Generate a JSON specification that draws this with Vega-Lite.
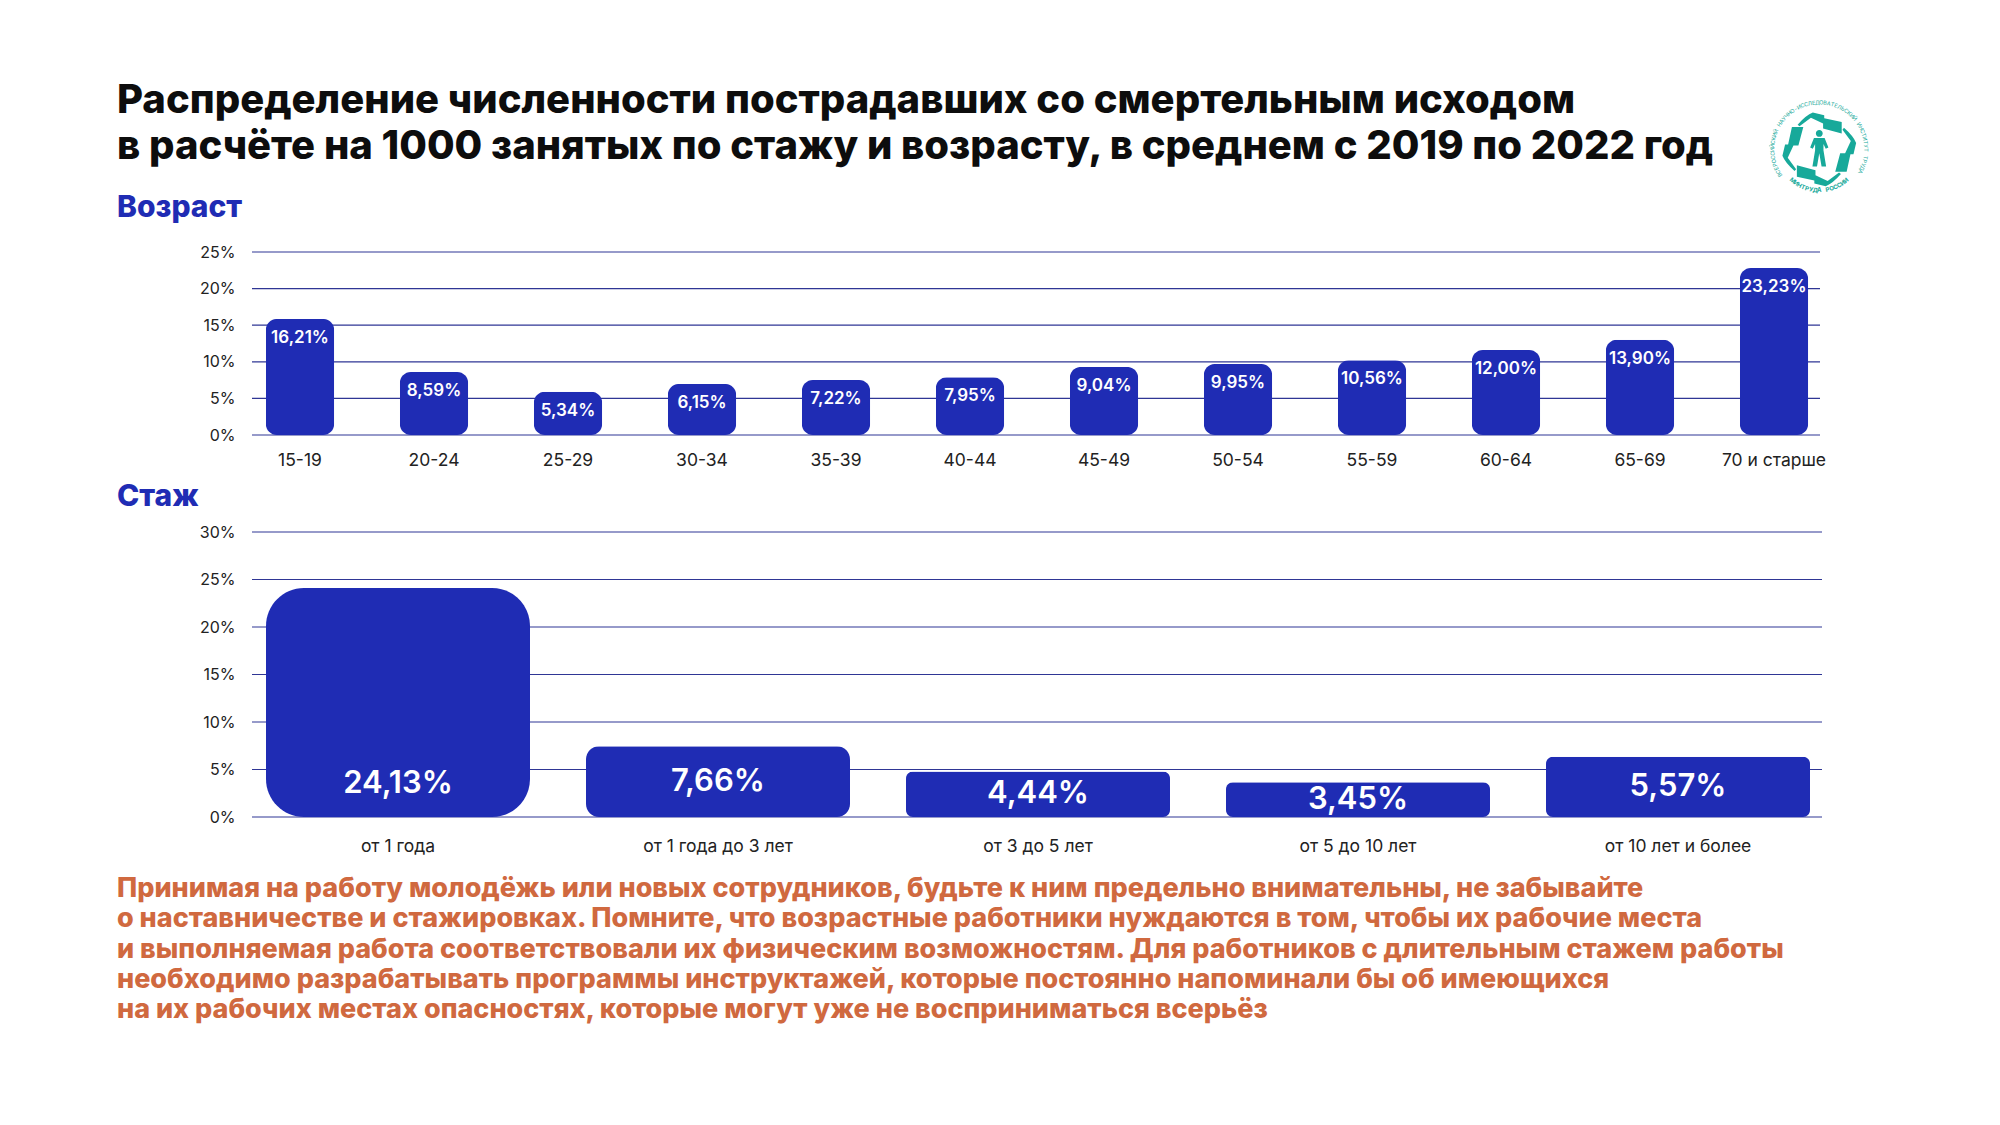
{
  "$schema": "https://vega.github.io/schema/vega-lite/v6.json",
  "background": "white",
  "padding": {"left": 117, "top": 75, "right": 0, "bottom": 0},
  "bounds": "flush",
  "spacing": 97,
  "config": {
    "view": {"stroke": null},
    "font": "Inter",
    "axisY": {
      "values": [0, 5, 10, 15, 20, 25, 30],
      "labelExpr": "datum.value + '%'",
      "labelFontSize": 16,
      "labelColor": "#222222",
      "labelPadding": 17,
      "title": null,
      "domain": false,
      "ticks": false,
      "grid": false
    },
    "axisX": {
      "labelFontSize": 17.5,
      "labelColor": "#222222",
      "labelAngle": 0,
      "title": null,
      "domain": false,
      "ticks": false,
      "grid": false
    },
    "rule": {"color": "#2f3695", "strokeWidth": 1.2},
    "title": {"anchor": "start", "frame": "group", "dx": -135, "font": "Inter"}
  },
  "datasets": {
    "age": [
      {"age": "15-19", "height": 15.85, "label": "16,21%"},
      {"age": "20-24", "height": 8.6, "label": "8,59%"},
      {"age": "25-29", "height": 5.9, "label": "5,34%"},
      {"age": "30-34", "height": 6.97, "label": "6,15%"},
      {"age": "35-39", "height": 7.5, "label": "7,22%"},
      {"age": "40-44", "height": 7.9, "label": "7,95%"},
      {"age": "45-49", "height": 9.3, "label": "9,04%"},
      {"age": "50-54", "height": 9.7, "label": "9,95%"},
      {"age": "55-59", "height": 10.2, "label": "10,56%"},
      {"age": "60-64", "height": 11.6, "label": "12,00%"},
      {"age": "65-69", "height": 13, "label": "13,90%"},
      {"age": "70 и старше", "height": 22.8, "label": "23,23%"}
    ],
    "tenure": [
      {"tenure": "от 1 года", "height": 24.1, "label": "24,13%"},
      {"tenure": "от 1 года до 3 лет", "height": 7.44, "label": "7,66%"},
      {"tenure": "от 3 до 5 лет", "height": 4.8, "label": "4,44%"},
      {"tenure": "от 5 до 10 лет", "height": 3.67, "label": "3,45%"},
      {"tenure": "от 10 лет и более", "height": 6.35, "label": "5,57%"}
    ],
    "ticksAge": [{"tick": 0}, {"tick": 5}, {"tick": 10}, {"tick": 15}, {"tick": 20}, {"tick": 25}],
    "ticksTenure": [{"tick": 0}, {"tick": 5}, {"tick": 10}, {"tick": 15}, {"tick": 20}, {"tick": 25}, {"tick": 30}],
    "ring": [
      {"i": 0, "c": "В"}, {"i": 1, "c": "С"}, {"i": 2, "c": "Е"}, {"i": 3, "c": "Р"}, {"i": 4, "c": "О"},
      {"i": 5, "c": "С"}, {"i": 6, "c": "С"}, {"i": 7, "c": "И"}, {"i": 8, "c": "Й"}, {"i": 9, "c": "С"},
      {"i": 10, "c": "К"}, {"i": 11, "c": "И"}, {"i": 12, "c": "Й"}, {"i": 14, "c": "Н"}, {"i": 15, "c": "А"},
      {"i": 16, "c": "У"}, {"i": 17, "c": "Ч"}, {"i": 18, "c": "Н"}, {"i": 19, "c": "О"}, {"i": 20, "c": "-"},
      {"i": 21, "c": "И"}, {"i": 22, "c": "С"}, {"i": 23, "c": "С"}, {"i": 24, "c": "Л"}, {"i": 25, "c": "Е"},
      {"i": 26, "c": "Д"}, {"i": 27, "c": "О"}, {"i": 28, "c": "В"}, {"i": 29, "c": "А"}, {"i": 30, "c": "Т"},
      {"i": 31, "c": "Е"}, {"i": 32, "c": "Л"}, {"i": 33, "c": "Ь"}, {"i": 34, "c": "С"}, {"i": 35, "c": "К"},
      {"i": 36, "c": "И"}, {"i": 37, "c": "Й"}, {"i": 39, "c": "И"}, {"i": 40, "c": "Н"}, {"i": 41, "c": "С"},
      {"i": 42, "c": "Т"}, {"i": 43, "c": "И"}, {"i": 44, "c": "Т"}, {"i": 45, "c": "У"}, {"i": 46, "c": "Т"},
      {"i": 48, "c": "Т"}, {"i": 49, "c": "Р"}, {"i": 50, "c": "У"}, {"i": 51, "c": "Д"}, {"i": 52, "c": "А"}
    ],
    "ministry": [
      {"i": 0, "c": "М"}, {"i": 1, "c": "И"}, {"i": 2, "c": "Н"}, {"i": 3, "c": "Т"}, {"i": 4, "c": "Р"},
      {"i": 5, "c": "У"}, {"i": 6, "c": "Д"}, {"i": 7, "c": "А"}, {"i": 9, "c": "Р"}, {"i": 10, "c": "О"},
      {"i": 11, "c": "С"}, {"i": 12, "c": "С"}, {"i": 13, "c": "И"}, {"i": 14, "c": "И"}
    ]
  },
  "vconcat": [
    {
      "width": 1572,
      "height": 80,
      "title": {
        "text": [
          "Распределение численности пострадавших со смертельным исходом",
          "в расчёте на 1000 занятых по стажу и возрасту, в среднем с 2019 по 2022 год"
        ],
        "fontSize": 40,
        "fontWeight": 800,
        "color": "#0d0d0d",
        "lineHeight": 46,
        "baseline": "top",
        "offset": 0,
        "dy": 92
      },
      "encoding": {
        "x": {"datum": 0.997, "type": "quantitative", "scale": {"domain": [0, 1]}, "axis": null},
        "y": {"datum": 0.07, "type": "quantitative", "scale": {"domain": [0, 1]}, "axis": null}
      },
      "resolve": {"scale": {"theta": "independent", "angle": "independent"}},
      "layer": [
        {
          "data": {"values": [{"logo": "hands and figure"}]},
          "mark": {
            "type": "point",
            "filled": true,
            "opacity": 1,
            "size": 5776,
            "color": "#17a99a",
            "shape": "M-0.57 -0.65 Q-0.35 -0.9 -0.17 -0.97 L0.13 -0.9 L0.13 -0.82 L0.59 -0.72 L0.59 -0.42 L0.1 -0.55 L0.1 -0.68 L-0.22 -0.83 L-0.52 -0.61 Z M0.65 -0.57 Q0.9 -0.35 0.97 -0.17 L0.9 0.13 L0.82 0.13 L0.72 0.59 L0.42 0.59 L0.55 0.1 L0.68 0.1 L0.83 -0.22 L0.61 -0.52 Z M0.57 0.65 Q0.35 0.9 0.17 0.97 L-0.13 0.9 L-0.13 0.82 L-0.59 0.72 L-0.59 0.42 L-0.1 0.55 L-0.1 0.68 L0.22 0.83 L0.52 0.61 Z M-0.65 0.57 Q-0.9 0.35 -0.97 0.17 L-0.9 -0.13 L-0.82 -0.13 L-0.72 -0.59 L-0.42 -0.59 L-0.55 -0.1 L-0.68 -0.1 L-0.83 0.22 L-0.61 0.52 Z M-0.09 -0.42 A0.09 0.09 0 1 1 0.09 -0.42 A0.09 0.09 0 1 1 -0.09 -0.42 Z M-0.14 -0.3 L0.14 -0.3 L0.24 -0.05 L0.17 -0.02 L0.11 -0.14 L0.11 0.02 L0.18 0.45 L0.06 0.45 L0 0.1 L-0.06 0.45 L-0.18 0.45 L-0.11 0.02 L-0.11 -0.14 L-0.17 -0.02 L-0.24 -0.05 Z"
          },
          "encoding": {}
        },
        {
          "data": {"name": "ring"},
          "mark": {"type": "text", "fontSize": 5.5, "color": "#17a99a", "baseline": "middle", "radius": 47},
          "encoding": {
            "text": {"field": "c"},
            "theta": {"field": "i", "type": "quantitative", "stack": null, "scale": {"domain": [0, 52], "range": [-2.15, 2.07]}},
            "angle": {"field": "i", "type": "quantitative", "scale": {"domain": [0, 52], "range": [-123, 119]}}
          }
        },
        {
          "data": {"name": "ministry"},
          "mark": {"type": "text", "fontSize": 6, "fontWeight": 700, "color": "#17a99a", "baseline": "middle", "radius": 41},
          "encoding": {
            "text": {"field": "c"},
            "theta": {"field": "i", "type": "quantitative", "stack": null, "scale": {"domain": [0, 14], "range": [3.85, 2.43]}},
            "angle": {"field": "i", "type": "quantitative", "scale": {"domain": [0, 14], "range": [40, -40]}}
          }
        }
      ]
    },
    {
      "width": 1568,
      "height": 183,
      "title": {"text": "Возраст", "fontSize": 30, "fontWeight": 800, "color": "#1f2cb4", "offset": 21},
      "layer": [
        {
          "data": {"name": "ticksAge"},
          "mark": "rule",
          "encoding": {"y": {"field": "tick", "type": "quantitative", "scale": {"domain": [0, 25]}}}
        },
        {
          "data": {"name": "age"},
          "encoding": {
            "x": {
              "field": "age",
              "type": "nominal",
              "sort": null,
              "scale": {"range": [-19, 1589], "paddingInner": 0.49, "paddingOuter": 0.245},
              "axis": {"labelPadding": 16}
            },
            "y": {"field": "height", "type": "quantitative", "scale": {"domain": [0, 25]}}
          },
          "layer": [
            {"mark": {"type": "bar", "color": "#1f2cb4", "cornerRadius": 11}},
            {
              "mark": {"type": "text", "color": "white", "fontSize": 17, "fontWeight": 600, "baseline": "middle", "dy": 19},
              "encoding": {"text": {"field": "label"}}
            }
          ]
        }
      ]
    },
    {
      "width": 1570,
      "height": 285,
      "title": {"text": "Стаж", "fontSize": 30, "fontWeight": 800, "color": "#1f2cb4", "offset": 12},
      "layer": [
        {
          "data": {"name": "ticksTenure"},
          "mark": "rule",
          "encoding": {"y": {"field": "tick", "type": "quantitative", "scale": {"domain": [0, 30]}}}
        },
        {
          "data": {"name": "tenure"},
          "encoding": {
            "x": {
              "field": "tenure",
              "type": "nominal",
              "sort": null,
              "scale": {"range": [-14, 1586], "paddingInner": 0.175, "paddingOuter": 0.0875},
              "axis": {"labelPadding": 20}
            },
            "y": {"field": "height", "type": "quantitative", "scale": {"domain": [0, 30]}}
          },
          "layer": [
            {
              "transform": [{"filter": "datum.height > 20"}],
              "mark": {"type": "bar", "color": "#1f2cb4", "cornerRadius": 38}
            },
            {
              "transform": [{"filter": "datum.height > 7 && datum.height < 20"}],
              "mark": {"type": "bar", "color": "#1f2cb4", "cornerRadius": 13}
            },
            {
              "transform": [{"filter": "datum.height < 7"}],
              "mark": {"type": "bar", "color": "#1f2cb4", "cornerRadius": 7}
            },
            {
              "mark": {
                "type": "text",
                "color": "white",
                "fontSize": 31,
                "fontWeight": 600,
                "baseline": "middle",
                "dy": {"expr": "datum.height > 20 ? 196 : datum.height * 4.75"}
              },
              "encoding": {"text": {"field": "label"}}
            }
          ]
        }
      ]
    },
    {
      "width": 1572,
      "height": 90,
      "title": {
        "text": [
          "Принимая на работу молодёжь или новых сотрудников, будьте к ним предельно внимательны, не забывайте",
          "о наставничестве и стажировках. Помните, что возрастные работники нуждаются в том, чтобы их рабочие места",
          "и выполняемая работа соответствовали их физическим возможностям. Для работников с длительным стажем работы",
          "необходимо разрабатывать программы инструктажей, которые постоянно напоминали бы об имеющихся",
          "на их рабочих местах опасностях, которые могут уже не восприниматься всерьёз"
        ],
        "fontSize": 27,
        "fontWeight": 800,
        "color": "#d0693f",
        "lineHeight": 30.4,
        "baseline": "top",
        "offset": 0,
        "dy": 111
      },
      "data": {"values": [{"note": 1}]},
      "mark": {"type": "rule", "opacity": 0},
      "encoding": {}
    }
  ]
}
